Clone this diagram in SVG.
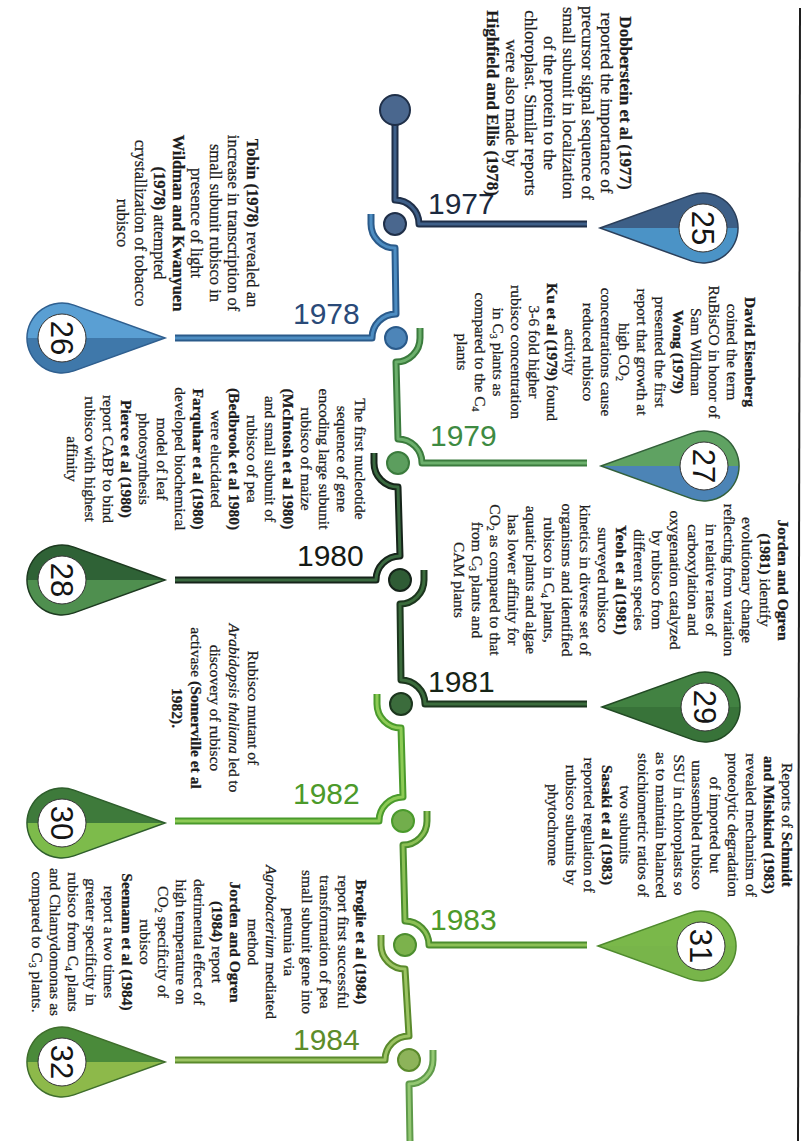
<svg xmlns="http://www.w3.org/2000/svg" xmlns:xlink="http://www.w3.org/1999/xlink" width="803" height="1141" viewBox="0 0 803 1141">
<style>
.t{font-family:"Liberation Serif","Times New Roman",serif;font-size:15.5px;fill:#1c1c1c;stroke:#1c1c1c;stroke-width:0.25px;text-anchor:middle}
.big{font-size:17px}
.mid{font-size:16.5px}
.b{font-weight:bold}
.i{font-style:italic}
.s{font-size:10px}
.yr{font-family:"Liberation Sans",Arial,sans-serif;font-size:30px}
.num{font-family:"Liberation Sans",Arial,sans-serif;font-size:31px;fill:#151515;text-anchor:middle}
.o{fill:none;stroke-width:7;stroke-linejoin:round}
.in{fill:none;stroke-width:3;stroke-linejoin:round}
.node{stroke-width:2}
.hole{fill:#fff;stroke:#333;stroke-width:1}
</style>
<defs>
<path id="pin" d="M -103 0 L -11.9 -32.9 A 35 35 0 1 1 -11.9 32.9 Z"/>
<linearGradient id="g25" x1="0" y1="0" x2="0" y2="1"><stop offset="0.5" stop-color="#3d5f87"/><stop offset="0.5" stop-color="#4b93c6"/></linearGradient>
<linearGradient id="g26" x1="0" y1="0" x2="0" y2="1"><stop offset="0.5" stop-color="#5a9fd3"/><stop offset="0.5" stop-color="#3f78aa"/></linearGradient>
<linearGradient id="g27" x1="0" y1="0" x2="0" y2="1"><stop offset="0.5" stop-color="#5fa262"/><stop offset="0.5" stop-color="#4c84b6"/></linearGradient>
<linearGradient id="g28" x1="0" y1="0" x2="0" y2="1"><stop offset="0.5" stop-color="#2f6236"/><stop offset="0.5" stop-color="#4f8f4f"/></linearGradient>
<linearGradient id="g29" x1="0" y1="0" x2="0" y2="1"><stop offset="0.5" stop-color="#428242"/><stop offset="0.5" stop-color="#387339"/></linearGradient>
<linearGradient id="g30" x1="0" y1="0" x2="0" y2="1"><stop offset="0.5" stop-color="#3e7a3b"/><stop offset="0.5" stop-color="#7dbb4b"/></linearGradient>
<linearGradient id="g31" x1="0" y1="0" x2="0" y2="1"><stop offset="0.5" stop-color="#7ab84a"/><stop offset="0.5" stop-color="#78b54a"/></linearGradient>
<linearGradient id="g32" x1="0" y1="0" x2="0" y2="1"><stop offset="0.5" stop-color="#4a8a3a"/><stop offset="0.5" stop-color="#8db94a"/></linearGradient>
</defs>
<rect width="803" height="1141" fill="#fff"/>
<line x1="800" y1="8" x2="798" y2="1141" stroke="#1e1e1e" stroke-width="2"/>

<g id="connectors">
<path class="o" stroke="#1f2f48" d="M 395 120 L 395 200 A 24 24 0 0 1 419 224 L 587 224"/>
<path class="in" stroke="#3e5f88" d="M 395 120 L 395 200 A 24 24 0 0 1 419 224 L 587 224"/>
<path class="o" stroke="#2a5a8a" d="M 371 214 L 371 224 A 24 24 0 0 0 395 248 L 396 314 A 24 24 0 0 0 372 338 L 175 338"/>
<path class="in" stroke="#4d8dc2" d="M 371 214 L 371 224 A 24 24 0 0 0 395 248 L 396 314 A 24 24 0 0 0 372 338 L 175 338"/>
<path class="o" stroke="#3b7b3d" d="M 420 328 L 420 338 A 24 24 0 0 1 396 362 L 398 439 A 24 24 0 0 1 422 463 L 587 463"/>
<path class="in" stroke="#6cb06c" d="M 420 328 L 420 338 A 24 24 0 0 1 396 362 L 398 439 A 24 24 0 0 1 422 463 L 587 463"/>
<path class="o" stroke="#16241a" d="M 374 453 L 374 463 A 24 24 0 0 0 398 487 L 400 556 A 24 24 0 0 0 376 580 L 175 580"/>
<path class="in" stroke="#3a6a40" d="M 374 453 L 374 463 A 24 24 0 0 0 398 487 L 400 556 A 24 24 0 0 0 376 580 L 175 580"/>
<path class="o" stroke="#1c361e" d="M 424 570 L 424 580 A 24 24 0 0 1 400 604 L 401 680 A 24 24 0 0 1 425 704 L 587 704"/>
<path class="in" stroke="#3b6c3c" d="M 424 570 L 424 580 A 24 24 0 0 1 400 604 L 401 680 A 24 24 0 0 1 425 704 L 587 704"/>
<path class="o" stroke="#4a9a2c" d="M 377 694 L 377 704 A 24 24 0 0 0 401 728 L 403 797 A 24 24 0 0 0 379 821 L 175 821"/>
<path class="in" stroke="#8dcb55" d="M 377 694 L 377 704 A 24 24 0 0 0 401 728 L 403 797 A 24 24 0 0 0 379 821 L 175 821"/>
<path class="o" stroke="#4c8d2e" d="M 427 811 L 427 821 A 24 24 0 0 1 403 845 L 405 921 A 24 24 0 0 1 429 945 L 587 945"/>
<path class="in" stroke="#8cc055" d="M 427 811 L 427 821 A 24 24 0 0 1 403 845 L 405 921 A 24 24 0 0 1 429 945 L 587 945"/>
<path class="o" stroke="#5a8a2c" d="M 381 935 L 381 945 A 24 24 0 0 0 405 969 L 409 1036 A 24 24 0 0 0 385 1060 L 175 1060"/>
<path class="in" stroke="#9cc463" d="M 381 935 L 381 945 A 24 24 0 0 0 405 969 L 409 1036 A 24 24 0 0 0 385 1060 L 175 1060"/>
<path class="o" stroke="#5f9a4a" d="M 433 1050 L 433 1060 A 24 24 0 0 1 409 1084 L 410 1141"/>
<path class="in" stroke="#94c873" d="M 433 1050 L 433 1060 A 24 24 0 0 1 409 1084 L 410 1141"/>
</g>

<g id="nodes">
<circle class="node" cx="395" cy="110" r="15" fill="#4a678e" stroke="#1f2f48"/>
<circle class="node" cx="395" cy="224" r="11" fill="#4a678e" stroke="#1f2f48"/>
<circle class="node" cx="396" cy="338" r="11" fill="#4d85b8" stroke="#2a5a8a"/>
<circle class="node" cx="398" cy="463" r="11" fill="#5c9e5e" stroke="#3b7b3d"/>
<circle class="node" cx="400" cy="580" r="11" fill="#2f5c35" stroke="#16241a"/>
<circle class="node" cx="401" cy="704" r="11" fill="#3b6c3c" stroke="#1c361e"/>
<circle class="node" cx="403" cy="821" r="11" fill="#72ae4c" stroke="#4a9a2c"/>
<circle class="node" cx="405" cy="945" r="11" fill="#7cb24c" stroke="#4c8d2e"/>
<circle class="node" cx="409" cy="1060" r="11" fill="#8db35a" stroke="#5a8a2c"/>
</g>

<g id="years">
<text class="yr" x="428" y="214" fill="#1c2a40">1977</text>
<text class="yr" x="293" y="324" fill="#2a4a78">1978</text>
<text class="yr" x="430" y="446" fill="#3e8a42">1979</text>
<text class="yr" x="297" y="566" fill="#151a15">1980</text>
<text class="yr" x="428" y="692" fill="#162416">1981</text>
<text class="yr" x="293" y="804" fill="#4c9a2a">1982</text>
<text class="yr" x="430" y="930" fill="#4c9a2a">1983</text>
<text class="yr" x="293" y="1050" fill="#5d8c2a">1984</text>
</g>

<g id="pin25"><use href="#pin" transform="translate(703,228)" fill="url(#g25)" stroke="#2b3f5a" stroke-width="1.5"/><circle class="hole" cx="703" cy="228" r="24"/><text class="num" transform="translate(703,228) rotate(90)" y="11">25</text></g>
<g id="pin26"><use href="#pin" transform="translate(62,338) scale(-1,1)" fill="url(#g26)" stroke="#2f5f8f" stroke-width="1.5"/><circle class="hole" cx="62" cy="338" r="24"/><text class="num" transform="translate(62,338) rotate(90)" y="11">26</text></g>
<g id="pin27"><use href="#pin" transform="translate(704,466)" fill="url(#g27)" stroke="#33603a" stroke-width="1.5"/><circle class="hole" cx="704" cy="466" r="24"/><text class="num" transform="translate(704,466) rotate(90)" y="11">27</text></g>
<g id="pin28"><use href="#pin" transform="translate(62,580) scale(-1,1)" fill="url(#g28)" stroke="#1d3a20" stroke-width="1.5"/><circle class="hole" cx="62" cy="580" r="24"/><text class="num" transform="translate(62,580) rotate(90)" y="11">28</text></g>
<g id="pin29"><use href="#pin" transform="translate(705,707)" fill="url(#g29)" stroke="#224a24" stroke-width="1.5"/><circle class="hole" cx="705" cy="707" r="24"/><text class="num" transform="translate(705,707) rotate(90)" y="11">29</text></g>
<g id="pin30"><use href="#pin" transform="translate(62,823) scale(-1,1)" fill="url(#g30)" stroke="#2e5e2c" stroke-width="1.5"/><circle class="hole" cx="62" cy="823" r="24"/><text class="num" transform="translate(62,823) rotate(90)" y="11">30</text></g>
<g id="pin31"><use href="#pin" transform="translate(701,946)" fill="url(#g31)" stroke="#4f8a2e" stroke-width="1.5"/><circle class="hole" cx="701" cy="946" r="24"/><text class="num" transform="translate(701,946) rotate(90)" y="11">31</text></g>
<g id="pin32"><use href="#pin" transform="translate(62,1062) scale(-1,1)" fill="url(#g32)" stroke="#3f6e2c" stroke-width="1.5"/><circle class="hole" cx="62" cy="1062" r="24"/><text class="num" transform="translate(62,1062) rotate(90)" y="11">32</text></g>

<g id="textA" class="t big" transform="translate(620,103) rotate(90)">
<text y="0"><tspan class="b">Dobberstein et al (1977)</tspan></text>
<text y="19">reported the importance of</text>
<text y="38">precursor signal sequence of</text>
<text y="57">small subunit in localization</text>
<text y="76">of the protein to the</text>
<text y="95">chloroplast. Similar reports</text>
<text y="114">were also made by</text>
<text y="133"><tspan class="b">Highfield and Ellis (1978)</tspan></text>
</g>

<g id="textB" class="t mid" transform="translate(247,223) rotate(90)">
<text y="0"><tspan class="b">Tobin (1978)</tspan> revealed an</text>
<text y="18.6">increase in transcription of</text>
<text y="37.2">small subunit rubisco in</text>
<text y="55.8">presence of light</text>
<text y="74.4"><tspan class="b">Wildman and Kwanyuen</tspan></text>
<text y="93"><tspan class="b">(1978)</tspan> attempted</text>
<text y="111.6">crystallization of tobacco</text>
<text y="130.2">rubisco</text>
</g>

<g id="textC" class="t" transform="translate(745,352) rotate(90)">
<text y="0"><tspan class="b">David Eisenberg</tspan></text>
<text y="18">coined the term</text>
<text y="36">RuBisCO in honor of</text>
<text y="54">Sam Wildman</text>
<text y="72"><tspan class="b">Wong (1979)</tspan></text>
<text y="90">presented the first</text>
<text y="108">report that growth at</text>
<text y="126">high CO<tspan class="s" dy="3">2</tspan></text>
<text y="144">concentrations cause</text>
<text y="162">reduced rubisco</text>
<text y="180">activity</text>
<text y="198"><tspan class="b">Ku et al (1979)</tspan> found</text>
<text y="216">3-6 fold higher</text>
<text y="234">rubisco concentration</text>
<text y="252">in C<tspan class="s" dy="3">3</tspan><tspan dy="-3"> plants as</tspan></text>
<text y="270">compared to the C<tspan class="s" dy="3">4</tspan></text>
<text y="288">plants</text>
</g>

<g id="textD" class="t" transform="translate(778,580) rotate(90)">
<text y="0"><tspan class="b">Jorden and Ogren</tspan></text>
<text y="18"><tspan class="b">(1981)</tspan> identify</text>
<text y="36">evolutionary change</text>
<text y="54">reflecting from variation</text>
<text y="72">in relative rates of</text>
<text y="90">carboxylation and</text>
<text y="108">oxygenation catalyzed</text>
<text y="126">by rubisco from</text>
<text y="144">different species</text>
<text y="162"><tspan class="b">Yeoh et al (1981)</tspan></text>
<text y="180">surveyed rubisco</text>
<text y="198">kinetics in diverse set of</text>
<text y="216">organisms and identified</text>
<text y="234">rubisco in C<tspan class="s" dy="3">4</tspan><tspan dy="-3"> plants,</tspan></text>
<text y="252">aquatic plants and algae</text>
<text y="270">has lower affinity for</text>
<text y="288">CO<tspan class="s" dy="3">2</tspan><tspan dy="-3"> as compared to that</tspan></text>
<text y="306">from C<tspan class="s" dy="3">3</tspan><tspan dy="-3"> plants and</tspan></text>
<text y="324">CAM plants</text>
</g>

<g id="textE" class="t" transform="translate(355,459) rotate(90)">
<text y="0">The first nucleotide</text>
<text y="18">sequence of gene</text>
<text y="36">encoding large subunit</text>
<text y="54">rubisco of maize</text>
<text y="72"><tspan class="b">(McIntosh et al 1980)</tspan></text>
<text y="90">and small subunit of</text>
<text y="108">rubisco of pea</text>
<text y="126"><tspan class="b">(Bedbrook et al 1980)</tspan></text>
<text y="144">were elucidated</text>
<text y="162"><tspan class="b">Farquhar et al (1980)</tspan></text>
<text y="180">developed biochemical</text>
<text y="198">model of leaf</text>
<text y="216">photosynthesis</text>
<text y="234"><tspan class="b">Pierce et al (1980)</tspan></text>
<text y="252">report CABP to bind</text>
<text y="270">rubisco with highest</text>
<text y="288">affinity</text>
</g>

<g id="textF" class="t" transform="translate(248,708) rotate(90)">
<text y="0">Rubisco mutant of</text>
<text y="19"><tspan class="i">Arabidopsis thaliana</tspan> led to</text>
<text y="38">discovery of rubisco</text>
<text y="57">activase <tspan class="b">(Somerville et al</tspan></text>
<text y="76"><tspan class="b">1982).</tspan></text>
</g>

<g id="textG" class="t" transform="translate(782,825) rotate(90)">
<text y="0">Reports of <tspan class="b">Schmidt</tspan></text>
<text y="18"><tspan class="b">and Mishkind (1983)</tspan></text>
<text y="36">revealed mechanism of</text>
<text y="54">proteolytic degradation</text>
<text y="72">of imported but</text>
<text y="90">unassembled rubisco</text>
<text y="108">SSU in chloroplasts so</text>
<text y="126">as to maintain balanced</text>
<text y="144">stoichiometric ratios of</text>
<text y="162">two subunits</text>
<text y="180"><tspan class="b">Sasaki et al (1983)</tspan></text>
<text y="198">reported regulation of</text>
<text y="216">rubisco subunits by</text>
<text y="234">phytochrome</text>
</g>

<g id="textH" class="t" transform="translate(356,942) rotate(90)">
<text y="0"><tspan class="b">Broglie et al (1984)</tspan></text>
<text y="18">report first successful</text>
<text y="36">transformation of pea</text>
<text y="54">small subunit gene into</text>
<text y="72">petunia via</text>
<text y="90"><tspan class="i">Agrobacterium</tspan> mediated</text>
<text y="108">method</text>
<text y="126"><tspan class="b">Jorden and Ogren</tspan></text>
<text y="144"><tspan class="b">(1984)</tspan> report</text>
<text y="162">detrimental effect of</text>
<text y="180">high temperature on</text>
<text y="198">CO<tspan class="s" dy="3">2</tspan><tspan dy="-3"> specificity of</tspan></text>
<text y="216">rubisco</text>
<text y="234"><tspan class="b">Seemann et al (1984)</tspan></text>
<text y="252">report a two times</text>
<text y="270">greater specificity in</text>
<text y="288">rubisco from C<tspan class="s" dy="3">4</tspan><tspan dy="-3"> plants</tspan></text>
<text y="306">and Chlamydomonas as</text>
<text y="324">compared to C<tspan class="s" dy="3">3</tspan><tspan dy="-3"> plants.</tspan></text>
</g>
</svg>
